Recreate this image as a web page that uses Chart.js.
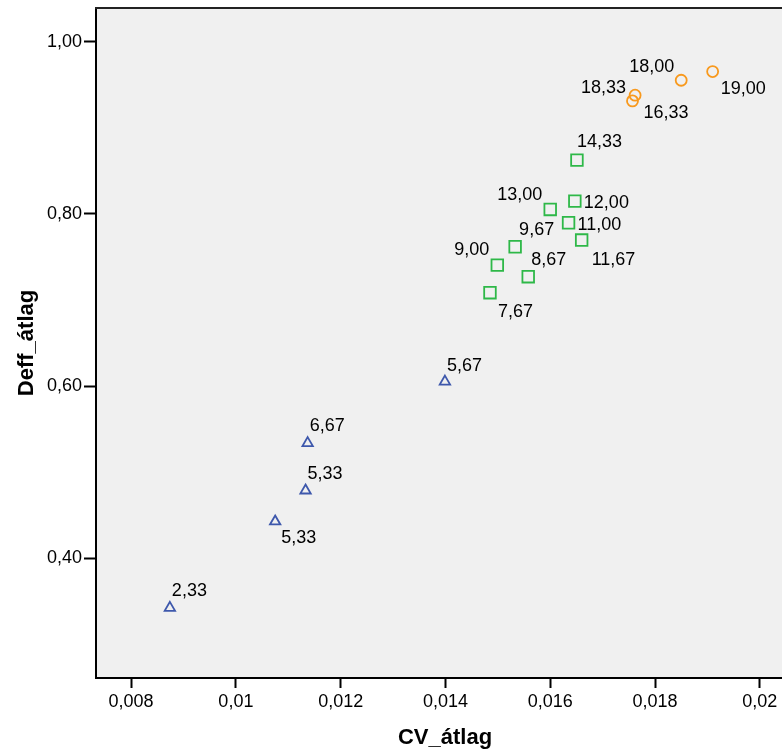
<!DOCTYPE html>
<html>
<head>
<meta charset="utf-8">
<script src="https://cdn.jsdelivr.net/npm/chart.js@4/dist/chart.umd.min.js"></script>
<style>
html,body{margin:0;padding:0;background:#fff;overflow:hidden;width:782px;height:751px;}
#c{position:absolute;left:0;top:0;}
</style>
</head>
<body>
<canvas id="c" width="794" height="751"></canvas>
<script>
// ---- Data ----
const xTicks = [0.008, 0.010, 0.012, 0.014, 0.016, 0.018, 0.020];
const xTickLabels = ['0,008', '0,01', '0,012', '0,014', '0,016', '0,018', '0,02'];
const yTicks = [0.40, 0.60, 0.80, 1.00];
const yTickLabels = ['0,40', '0,60', '0,80', '1,00'];

// group 1 (triangles)
const lowCV     = [0.00874, 0.01075, 0.01133, 0.01137, 0.01399];
const lowDeff   = [0.342,   0.4425,  0.4785,  0.5336,  0.6051];
const lowLabels = ['2,33',  '5,33',  '5,33',  '6,67',  '5,67'];

// group 2 (squares)
const midCV     = [0.01485, 0.01499, 0.01558, 0.01533, 0.01600, 0.01635, 0.01647, 0.01660, 0.01651];
const midDeff   = [0.7085,  0.7406,  0.7271,  0.7619,  0.8053,  0.7898,  0.8150,  0.7697,  0.8626];
const midLabels = ['7,67',  '9,00',  '8,67',  '9,67',  '13,00', '11,00', '12,00', '11,67', '14,33'];

// group 3 (circles)
const highCV     = [0.01762, 0.01757, 0.01850, 0.01910];
const highDeff   = [0.9381,  0.9315,  0.9555,  0.9656];
const highLabels = ['18,33', '16,33', '18,00', '19,00'];

// ---- Label placement (style only): [dx, dy, align] relative to the mark ----
const lowLabelPos  = [[2,-18,'left'],[6,15,'left'],[2,-18,'left'],[2,-18,'left'],[2,-17,'left']];
const midLabelPos  = [[8,18,'left'],[-8,-16.5,'right'],[3,-18,'left'],[4,-18,'left'],[-8,-16,'right'],
                      [9,0.6,'left'],[9,1,'left'],[10,18.5,'left'],[0,-19,'left']];
const highLabelPos = [[-9,-9,'right'],[11,11,'left'],[-7,-15,'right'],[8,16,'left']];

const FONT = '"Liberation Sans", Arial, sans-serif';

function pts(xs, ys){ return xs.map((x,i)=>({x:x, y:ys[i]})); }

const plotBg = {
  id:'plotBg',
  beforeDraw(chart){
    const {ctx, chartArea:a} = chart;
    ctx.save();
    ctx.fillStyle = '#f0f0f0';
    ctx.fillRect(a.left, a.top, a.right - a.left, a.bottom - a.top);
    ctx.restore();
  },
  afterDraw(chart){
    const {ctx, chartArea:a} = chart;
    ctx.save();
    ctx.strokeStyle = '#222';
    ctx.lineWidth = 2;
    ctx.beginPath();
    ctx.moveTo(a.left - 1, a.top);
    ctx.lineTo(a.right, a.top);
    ctx.stroke();
    ctx.restore();
  }
};

const pointLabels = {
  id:'pointLabels',
  afterDatasetsDraw(chart){
    const {ctx} = chart;
    ctx.save();
    ctx.font = '18px ' + FONT;
    ctx.fillStyle = '#000';
    ctx.textBaseline = 'alphabetic';
    chart.data.datasets.forEach((ds, di) => {
      const meta = chart.getDatasetMeta(di);
      meta.data.forEach((el, i) => {
        const p = ds.labelPos[i];
        ctx.textAlign = p[2];
        ctx.fillText(ds.pointText[i], el.x + p[0], el.y + p[1] + 6.3);
      });
    });
    ctx.restore();
  }
};

new Chart(document.getElementById('c'), {
  type: 'scatter',
  data: {
    datasets: [
      { data: pts(lowCV, lowDeff), pointText: lowLabels, labelPos: lowLabelPos,
        pointStyle: 'triangle', pointRadius: 6, pointHoverRadius: 6,
        borderColor: '#3E58AC', backgroundColor: 'rgba(0,0,0,0)', borderWidth: 1.8 },
      { data: pts(midCV, midDeff), pointText: midLabels, labelPos: midLabelPos,
        pointStyle: 'rect', pointRadius: 8.2, pointHoverRadius: 8.2,
        borderColor: '#2EB848', backgroundColor: 'rgba(0,0,0,0)', borderWidth: 1.8 },
      { data: pts(highCV, highDeff), pointText: highLabels, labelPos: highLabelPos,
        pointStyle: 'circle', pointRadius: 5.5, pointHoverRadius: 5.5,
        borderColor: '#F8991D', backgroundColor: 'rgba(0,0,0,0)', borderWidth: 1.8 }
    ]
  },
  options: {
    responsive: false,
    devicePixelRatio: 1,
    animation: false,
    events: [],
    layout: { autoPadding: false, padding: { top: 8, right: 0, left: 0, bottom: 0 } },
    plugins: { legend: { display: false }, tooltip: { enabled: false } },
    scales: {
      x: {
        type: 'linear',
        min: 0.00733,
        max: 0.020653,
        afterBuildTicks: s => { s.ticks = xTicks.map(v => ({ value: v })); },
        afterFit: s => { s.height = 73; s.paddingLeft = 0; s.paddingRight = 0; },
        ticks: {
          autoSkip: false, maxRotation: 0, color: '#000', padding: 3,
          font: { family: FONT, size: 18 },
          callback: (v, i) => xTickLabels[i]
        },
        grid: { display: true, drawOnChartArea: false, drawTicks: true, tickLength: 10,
                tickWidth: 2, tickColor: '#000' },
        border: { display: true, color: '#000', width: 2 },
        title: { display: true, text: 'CV_átlag', color: '#000',
                 font: { family: FONT, size: 22, weight: 'bold' }, padding: { top: 0, bottom: 0 } }
      },
      y: {
        type: 'linear',
        min: 0.2605,
        max: 1.0395,
        afterBuildTicks: s => { s.ticks = yTicks.map(v => ({ value: v })); },
        afterFit: s => { s.width = 96; s.paddingTop = 0; s.paddingBottom = 0; },
        ticks: {
          autoSkip: false, color: '#000', padding: 2,
          font: { family: FONT, size: 18 },
          callback: (v, i) => yTickLabels[i]
        },
        grid: { display: true, drawOnChartArea: false, drawTicks: true, tickLength: 12,
                tickWidth: 2, tickColor: '#000' },
        border: { display: true, color: '#000', width: 2 },
        title: { display: true, text: 'Deff_átlag', color: '#000',
                 font: { family: FONT, size: 22, weight: 'bold' }, padding: { top: 14, bottom: 0 } }
      }
    }
  },
  plugins: [plotBg, pointLabels]
});
</script>
</body>
</html>
